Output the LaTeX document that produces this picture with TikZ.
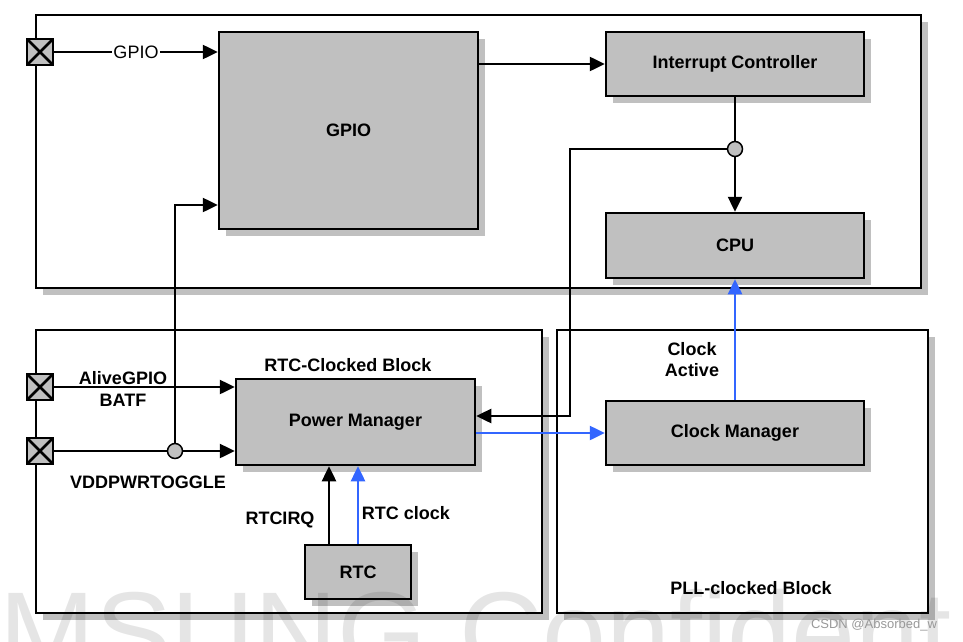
\documentclass[tikz,border=0pt]{standalone}
\usepackage{fontspec}
\setmainfont{Liberation Sans}
\usetikzlibrary{arrows.meta,shadows}
\definecolor{blockgray}{RGB}{192,192,192}
\definecolor{clkblue}{RGB}{51,102,255}
\begin{document}
\begin{tikzpicture}[x=1pt,y=-1pt,line width=2.5pt,
		boxshadow/.style={drop shadow={shadow xshift=7pt,shadow yshift=-7pt,fill=blockgray,opacity=1}},
		region/.style={draw,fill=white,inner sep=0pt,boxshadow},
		block/.style={draw,fill=blockgray,inner sep=0pt,font=\fontsize{18}{21}\selectfont\bfseries,boxshadow},
		pad/.style={draw,fill=blockgray,minimum size=26pt,inner sep=0pt,path picture={
			\draw (path picture bounding box.north west) -- (path picture bounding box.south east)
				(path picture bounding box.north east) -- (path picture bounding box.south west);}},
		dot/.style={circle,draw,fill=blockgray,minimum size=15pt,inner sep=0pt,line width=1.5pt},
		lbl/.style={font=\fontsize{18}{21}\selectfont\bfseries,inner sep=1pt},
		arr/.style={-{Triangle[length=15pt,width=14pt]}},
		clkline/.style={draw=clkblue}]
		\clip (0,0) rectangle (963,642);
		\node[region,minimum width=885pt,minimum height=273pt] (soc) at (478.5,151.5) {};
		\node[region,minimum width=506pt,minimum height=283pt] (rtcblk) at (289,471.5) {};
		\node[region,minimum width=371pt,minimum height=283pt] (pllblk) at (742.5,471.5) {};
		\node[block,minimum width=259pt,minimum height=197pt] (gpio) at (348.5,130.5) {GPIO};
		\node[block,minimum width=258pt,minimum height=64pt] (intc) at (735,64) {Interrupt Controller};
		\node[block,minimum width=258pt,minimum height=65pt] (cpu) at (735,245.5) {CPU};
		\node[block,minimum width=239pt,minimum height=86pt] (pm) at (355.5,422) {Power Manager};
		\node[block,minimum width=258pt,minimum height=64pt] (clkmgr) at (735,433) {Clock Manager};
		\node[block,minimum width=106pt,minimum height=54pt] (rtc) at (358,572) {RTC};
		\node[pad] (gpiopad) at (40,52) {};
		\node[pad] (alivepad) at (40,387) {};
		\node[pad] (vddpad) at (40,451) {};
		\node[dot] (vddjoin) at (175,451) {};
		\node[dot] (irqjoin) at (735,149) {};
		\coordinate (irqbend) at (570,416);
		\draw[arr] (gpiopad) -- node[fill=white,inner sep=1pt,font=\fontsize{18}{21}\selectfont] (gpiolbl) {GPIO} (gpio.west |- gpiopad);
		\draw[arr] (gpio.east |- intc) -- (intc.west);
		\draw (intc.south) -- (irqjoin);
		\draw[arr] (irqjoin) -- (cpu.north);
		\draw[arr] (irqjoin) -| (irqbend) -- (pm.east |- irqbend);
		\draw[arr] (alivepad) -- (pm.west |- alivepad);
		\draw (vddpad) -- (vddjoin);
		\draw[arr] (vddjoin) -- (pm.west |- vddjoin);
		\draw[arr] (vddjoin) |- (gpio.west |- 0,205);
		\draw[arr] (rtc.north -| 329,0) -- (pm.south -| 329,0);
		\draw[arr,clkline] (rtc.north) -- (rtc.north |- pm.south);
		\draw[arr,clkline] (pm.east |- clkmgr) -- (clkmgr.west);
		\draw[arr,clkline] (clkmgr.north) -- (cpu.south);
		\node[lbl] (alivelbl) at (123,378) {AliveGPIO};
		\node[lbl] (batflbl) at (123,400) {BATF};
		\node[lbl] (vddlbl) at (148,482) {VDDPWRTOGGLE};
		\node[lbl] (rtcblklbl) at (348,365) {RTC-Clocked Block};
		\node[lbl] (irqlbl) at (280,520) {RTCIRQ};
		\node[lbl] (rtcclklbl) at (406,513) {RTC clock};
		\node[lbl,align=center] (activelbl) at (692,360) {Clock\\Active};
		\node[lbl] (pllblklbl) at (751,588) {PLL-clocked Block};
		\node[anchor=base west,inner sep=0pt,text=black,text opacity=0.1,font=\fontsize{115}{120}\selectfont] (mark) at (-2,672) {MSUNG Confident};
		\node[text=black!40,font=\fontsize{13}{15}\selectfont] (csdn) at (874,625) {CSDN @Absorbed\_w};
		\end{tikzpicture}
\end{document}
